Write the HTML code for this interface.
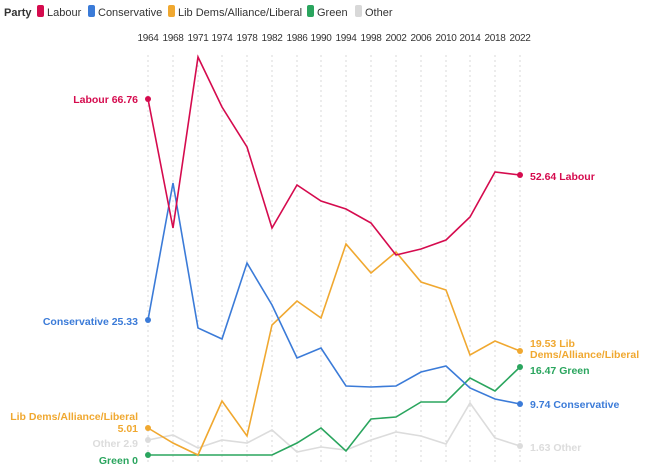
<!DOCTYPE html><html><head><style>body{margin:0;background:#fff;font-family:"Liberation Sans",sans-serif}</style></head><body>
<svg width="648" height="467" xmlns="http://www.w3.org/2000/svg" font-family="Liberation Sans, sans-serif">
<g font-size="11" fill="#333">
<text x="4" y="16" font-weight="bold">Party</text>
<rect x="37" y="5" width="7" height="12" rx="2" fill="#d50b4e"/><text x="47" y="16">Labour</text>
<rect x="88" y="5" width="7" height="12" rx="2" fill="#3b7bd8"/><text x="98" y="16">Conservative</text>
<rect x="168" y="5" width="7" height="12" rx="2" fill="#f0a830"/><text x="178" y="16">Lib Dems/Alliance/Liberal</text>
<rect x="307" y="5" width="7" height="12" rx="2" fill="#2aa55e"/><text x="317" y="16">Green</text>
<rect x="355" y="5" width="7" height="12" rx="2" fill="#d8d8d8"/><text x="365" y="16">Other</text>
</g>
<g id="grid" stroke="#d8d8d8" stroke-dasharray="2,3">
<line x1="148" y1="55" x2="148" y2="462"/><line x1="173" y1="55" x2="173" y2="462"/><line x1="198" y1="55" x2="198" y2="462"/><line x1="222" y1="55" x2="222" y2="462"/><line x1="247" y1="55" x2="247" y2="462"/><line x1="272" y1="55" x2="272" y2="462"/><line x1="297" y1="55" x2="297" y2="462"/><line x1="321" y1="55" x2="321" y2="462"/><line x1="346" y1="55" x2="346" y2="462"/><line x1="371" y1="55" x2="371" y2="462"/><line x1="396" y1="55" x2="396" y2="462"/><line x1="421" y1="55" x2="421" y2="462"/><line x1="446" y1="55" x2="446" y2="462"/><line x1="470" y1="55" x2="470" y2="462"/><line x1="495" y1="55" x2="495" y2="462"/><line x1="520" y1="55" x2="520" y2="462"/>
</g>
<g font-size="10" fill="#333" text-anchor="middle" letter-spacing="-0.3">
<text x="148" y="41">1964</text><text x="173" y="41">1968</text><text x="198" y="41">1971</text><text x="222" y="41">1974</text><text x="247" y="41">1978</text><text x="272" y="41">1982</text><text x="297" y="41">1986</text><text x="321" y="41">1990</text><text x="346" y="41">1994</text><text x="371" y="41">1998</text><text x="396" y="41">2002</text><text x="421" y="41">2006</text><text x="446" y="41">2010</text><text x="470" y="41">2014</text><text x="495" y="41">2018</text><text x="520" y="41">2022</text>
</g>
<g fill="none" stroke-width="1.6">
<polyline stroke="#dcdcdc" points="148,440 173,435 198,448 222,440 247,443 272,430 297,452 321,447 346,450 371,440 396,432 421,436 446,444 470,403 495,438 520,446"/>
<polyline stroke="#2aa55e" points="148,455 173,455 198,455 222,455 247,455 272,455 297,443 321,428 346,451 371,419 396,417 421,402 446,402 470,378 495,391 520,367"/>
<polyline stroke="#f0a830" points="148,428 173,443 198,455 222,401 247,436 272,325 297,301 321,318 346,244 371,273 396,252 421,282 446,290 470,355 495,341 520,351"/>
<polyline stroke="#3b7bd8" points="148,320 173,183 198,328 222,339 247,263 272,305 297,358 321,348 346,386 371,387 396,386 421,372 446,366 470,388 495,399 520,404"/>
<polyline stroke="#d50b4e" points="148,99 173,228 198,57 222,107 247,147 272,228 297,185 321,201 346,209 371,223 396,255 421,249 446,240 470,217 495,172 520,175"/>
</g>
<g>
<circle cx="148" cy="440" r="3" fill="#dcdcdc"/><circle cx="520" cy="446" r="3" fill="#dcdcdc"/>
<circle cx="148" cy="455" r="3" fill="#2aa55e"/><circle cx="520" cy="367" r="3" fill="#2aa55e"/>
<circle cx="148" cy="428" r="3" fill="#f0a830"/><circle cx="520" cy="351" r="3" fill="#f0a830"/>
<circle cx="148" cy="320" r="3" fill="#3b7bd8"/><circle cx="520" cy="404" r="3" fill="#3b7bd8"/>
<circle cx="148" cy="99" r="3" fill="#d50b4e"/><circle cx="520" cy="175" r="3" fill="#d50b4e"/>
</g>
<g font-size="10.5" font-weight="bold" text-anchor="end">
<text x="138" y="103" fill="#d50b4e">Labour 66.76</text>
<text x="138" y="325" fill="#3b7bd8">Conservative 25.33</text>
<text x="138" y="420" fill="#f0a830">Lib Dems/Alliance/Liberal</text>
<text x="138" y="432" fill="#f0a830">5.01</text>
<text x="138" y="447" fill="#dcdcdc">Other 2.9</text>
<text x="138" y="464" fill="#2aa55e">Green 0</text>
</g>
<g font-size="10.5" font-weight="bold">
<text x="530" y="180" fill="#d50b4e">52.64 Labour</text>
<text x="530" y="347" fill="#f0a830">19.53 Lib</text>
<text x="530" y="358" fill="#f0a830">Dems/Alliance/Liberal</text>
<text x="530" y="374" fill="#2aa55e">16.47 Green</text>
<text x="530" y="408" fill="#3b7bd8">9.74 Conservative</text>
<text x="530" y="451" fill="#dcdcdc">1.63 Other</text>
</g>
</svg></body></html>
